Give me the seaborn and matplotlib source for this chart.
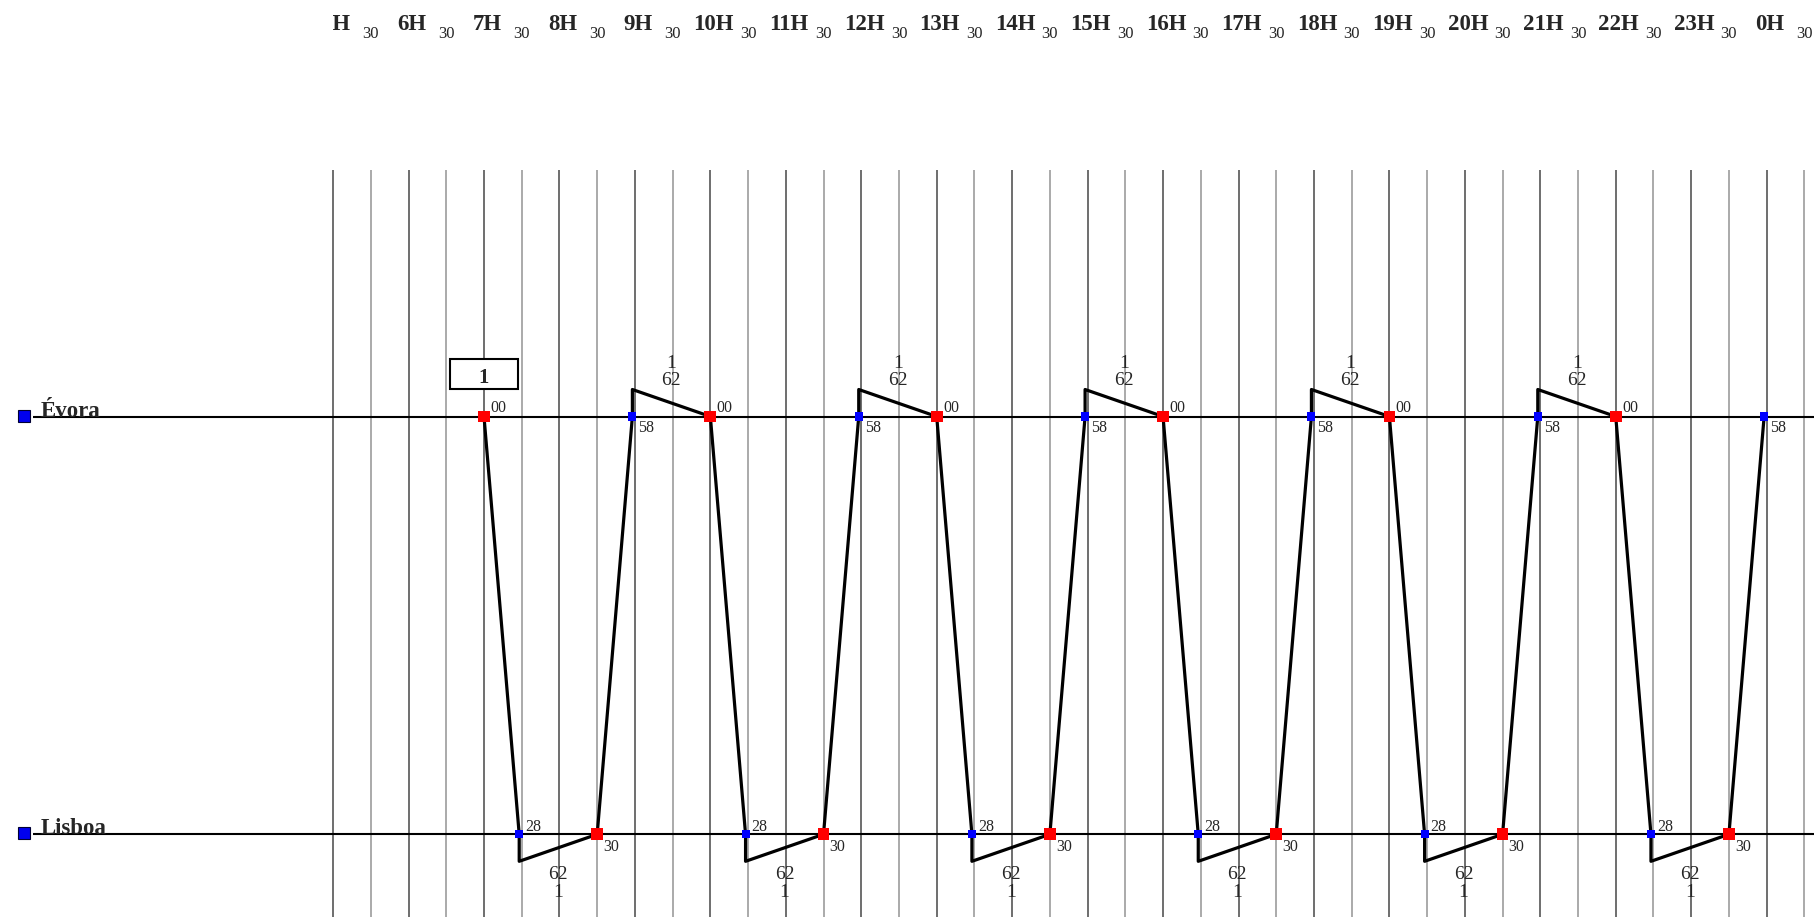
import matplotlib
matplotlib.use("Agg")
import matplotlib.pyplot as plt
from matplotlib.patches import Rectangle
import numpy as np
import pandas as pd
import seaborn as sns

# stations on the line (relative position, Évora on top)
stations = ["Évora", "Lisboa"]
station_pos = [0.0, 1.0]

# timetable of train 1, shuttling Évora <-> Lisboa
train_no = "1"
evora_dep = ["07:00", "10:00", "13:00", "16:00", "19:00", "22:00"]
lisboa_arr = ["07:28", "10:28", "13:28", "16:28", "19:28", "22:28"]
lisboa_dep = ["08:30", "11:30", "14:30", "17:30", "20:30", "23:30"]
evora_arr = ["08:58", "11:58", "14:58", "17:58", "20:58", "23:58"]

# time scale on top
hour_labels = ["5H", "6H", "7H", "8H", "9H", "10H", "11H", "12H", "13H", "14H",
               "15H", "16H", "17H", "18H", "19H", "20H", "21H", "22H", "23H", "0H"]
half_label = "30"
grid_start = 5.0

sns.set_theme(style="white")
plt.rcParams["font.family"] = ["Liberation Serif", "DejaVu Serif"]

# layout, in pixels of the 1814x917 picture
W, H, DPI = 1814, 917, 100
PX_PER_H = 75.45
X0 = 7 - 484 / PX_PER_H
X1 = X0 + W / PX_PER_H
Y_TOP_PX = 416.5
PX_PER_UNIT = 834.3 - 416.5
GRID_TOP_PX = 170


def dx(px):
    return px / PX_PER_H


def dy(px):
    return px / PX_PER_UNIT


def hours(s):
    h, m = s.split(":")
    return int(h) + int(m) / 60


ed = [hours(s) for s in evora_dep]
la = [hours(s) for s in lisboa_arr]
ld = [hours(s) for s in lisboa_dep]
ea = [hours(s) for s in evora_arr]
y_ev, y_li = station_pos

fig = plt.figure(figsize=(W / DPI, H / DPI), dpi=DPI)
ax = fig.add_axes([0, 0, 1, 1])
ax.set_xlim(X0, X1)
ax.set_ylim((H - Y_TOP_PX) / PX_PER_UNIT, -Y_TOP_PX / PX_PER_UNIT)
ax.axis("off")

# half hour grid
grid = np.arange(grid_start, X1, 0.5)
for t in grid:
    hour_line = abs(t - round(t)) < 1e-6
    ax.vlines(t, -dy(Y_TOP_PX - GRID_TOP_PX), ax.get_ylim()[0],
              color="#555555" if hour_line else "#9c9c9c", lw=1.2, zorder=1)

# station lines and names
for name, pos in zip(stations, station_pos):
    ax.hlines(pos, X0 + dx(33), X1, color="black", lw=1.5, zorder=2)
    ax.plot(X0 + dx(24), pos - dy(1), marker="s", ms=8.5, color="#0000ee",
            mec="#000033", mew=0.8, zorder=5, clip_on=False)
    ax.text(X0 + dx(41), pos, name, fontsize=16.5, fontweight="bold",
            ha="left", va="baseline", zorder=5)

# train path with dwell excursions
off = dy(27)
pts = []
for i in range(len(ed)):
    pts += [(ed[i], y_ev), (la[i], y_li), (la[i], y_li + off), (ld[i], y_li), (ea[i], y_ev)]
    if i < len(ed) - 1:
        pts.append((ea[i], y_ev - off))
path = pd.DataFrame(pts, columns=["hour", "pos"])
sns.lineplot(data=path, x="hour", y="pos", sort=False, estimator=None,
             color="black", lw=2.3, ax=ax, zorder=3)

# stops
dep = pd.DataFrame({"hour": ed + ld, "pos": [y_ev] * len(ed) + [y_li] * len(ld)})
arr = pd.DataFrame({"hour": la + ea, "pos": [y_li] * len(la) + [y_ev] * len(ea)})
sns.scatterplot(data=dep, x="hour", y="pos", marker="s", s=72, color="#ff0000",
                edgecolor="none", ax=ax, zorder=4)
sns.scatterplot(data=arr, x="hour", y="pos", marker="s", s=34, color="#0000ff",
                edgecolor="none", ax=ax, zorder=4)

# minute labels
def minute_label(t, pos, s, dxp, dyp, va):
    ax.annotate(s.split(":")[1], (t, pos), xytext=(dxp, dyp), textcoords="offset points",
                ha="left", va=va, fontsize=11.5, zorder=6)

for i in range(len(ed)):
    minute_label(ed[i], y_ev, evora_dep[i], 4.5, 3.5, "baseline")
    minute_label(la[i], y_li, lisboa_arr[i], 4.3, 2.2, "baseline")
    minute_label(ld[i], y_li, lisboa_dep[i], 4.3, -3.6, "top")
    minute_label(ea[i], y_ev, evora_arr[i], 4.3, -2.5, "top")

# dwell time and train number near each turnaround
def dwell_label(t0, t1, pos, below):
    mid = (t0 + t1) / 2
    mins = str(int(round((t1 - t0) * 60)))
    if below:
        ax.annotate(mins, (mid, pos), xytext=(0, -32.4), textcoords="offset points",
                    ha="center", va="baseline", fontsize=14)
        ax.annotate(train_no, (mid, pos), xytext=(0, -45.1), textcoords="offset points",
                    ha="center", va="baseline", fontsize=14)
    else:
        ax.annotate(mins, (mid, pos), xytext=(0, 22.7), textcoords="offset points",
                    ha="center", va="baseline", fontsize=14)
        ax.annotate(train_no, (mid, pos), xytext=(0, 34.7), textcoords="offset points",
                    ha="center", va="baseline", fontsize=14)

for i in range(len(ed)):
    dwell_label(la[i], ld[i], y_li, True)
    if i < len(ed) - 1:
        dwell_label(ea[i], ed[i + 1], y_ev, False)

# train number box over the first departure
bw, bh = dx(67.7), dy(30.3)
ax.add_patch(Rectangle((ed[0] - bw / 2, y_ev - dy(57.5)), bw, bh, facecolor="white",
                       edgecolor="black", lw=1.5, zorder=5))
ax.text(ed[0], y_ev - dy(33.8), train_no, fontsize=15, fontweight="bold",
        ha="center", va="baseline", zorder=6)

# hour header, clipped at the first grid line
x5 = (grid_start - X0) * PX_PER_H
hax = fig.add_axes([x5 / W, 1 - GRID_TOP_PX / H, 1 - x5 / W, GRID_TOP_PX / H])
hax.set_xlim(grid_start, X1)
hax.set_ylim(GRID_TOP_PX, 0)
hax.axis("off")
for k, lab in enumerate(hour_labels):
    t = grid_start + k
    hax.text(t + dx(3), 30, lab, fontsize=16.5, fontweight="bold",
             ha="center", va="baseline", clip_on=True)
    hax.text(t + 0.5, 38, half_label, fontsize=12, ha="center", va="baseline", clip_on=True)

fig.savefig("out.png", dpi=DPI)
